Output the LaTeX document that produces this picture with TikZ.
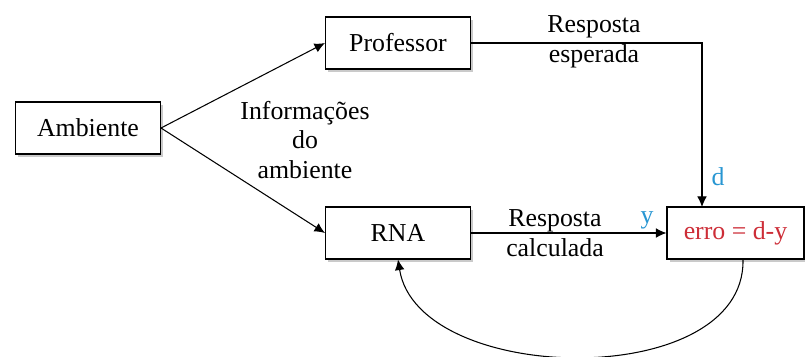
\documentclass[tikz,border=0pt]{standalone}
\usepackage{fontspec}
\setmainfont{Liberation Serif}
\usetikzlibrary{arrows.meta,shadows}
\definecolor{errred}{RGB}{205,45,55}
\definecolor{sigblue}{RGB}{40,150,210}
\tikzset{
  block/.style={draw, line width=0.6pt, fill=white, minimum width=2.9cm, minimum height=1.04cm,
    drop shadow={shadow xshift=1.6pt, shadow yshift=-1.6pt, opacity=0.35, fill=black!60}},
  flow/.style={-{Latex[length=6pt,width=5.5pt]}, line width=0.6pt},
  lbl/.style={align=center, font=\fontsize{14.7}{17}\selectfont}
}
\begin{document}
\begin{tikzpicture}[x=0.02cm, y=-0.02cm, font=\fontsize{14.7}{17}\selectfont]
    \useasboundingbox (0,0) rectangle (805,356);

    % Blocks
    \node[block] (amb) at (88,128) {Ambiente};
    \node[block] (prof) at (398,43) {Professor};
    \node[block] (rna) at (398,233) {RNA};
    \node[block, minimum width=2.74cm, text=errred] (erro) at (735.5,233) {erro = d-y};

    % Information from the environment
    \draw[flow] (amb.east) -- (prof.west);
    \draw[flow] (amb.east) -- (rna.west);
    \node[lbl] (info) at (305,140) {Informações\\do\\ambiente};

    % Desired response (d)
    \coordinate (din) at (702,207);
    \draw[flow] (prof.east) -| (din);
    \node[lbl] (esp) at (594,42) {Resposta\\esperada};
    \node[text=sigblue] (dlbl) at (718,177) {d};

    % Computed response (y)
    \draw[flow] (rna.east) -- (erro.west);
    \node[lbl] (calc) at (555,233) {Resposta\\calculada};
    \node[text=sigblue] (ylbl) at (647,220) {y};

    % Error fed back to the network
    \coordinate (eout) at (743,260);
    \draw[flow] (eout) .. controls (745,392) and (418,386) .. (rna.south);

\end{tikzpicture}
\end{document}
